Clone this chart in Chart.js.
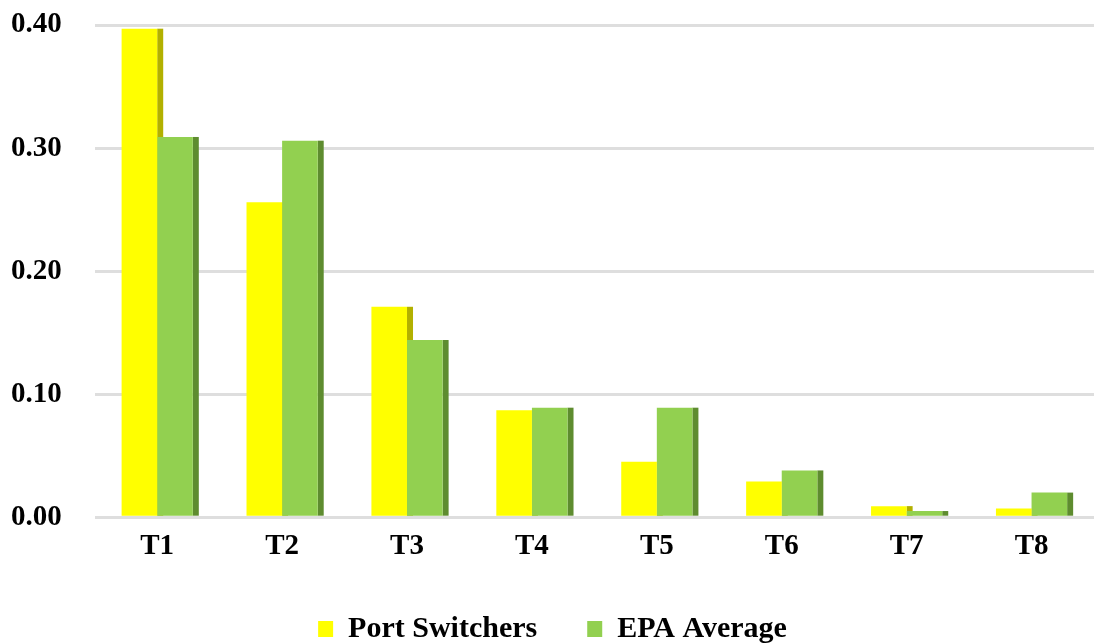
<!DOCTYPE html>
<html lang="en">
<head>
    <meta charset="UTF-8">
    <title>Port Switchers vs EPA Average</title>
    <script src="https://cdn.jsdelivr.net/npm/chart.js"></script>
    <style>
        body { margin: 0; background: #fff; }
    </style>
</head>
<body>
    <canvas id="barChart" width="1095" height="644"></canvas>

    <script>
        const categories = ['T1', 'T2', 'T3', 'T4', 'T5', 'T6', 'T7', 'T8'];
        const portSwitchers = [0.397, 0.256, 0.171, 0.087, 0.045, 0.029, 0.009, 0.007];
        const epaAverage = [0.309, 0.306, 0.144, 0.089, 0.089, 0.038, 0.005, 0.020];
        const yTicks = [0, 0.1, 0.2, 0.3, 0.4];

        // dark strip on the right of each bar (fake 3D side), drawn under the bars
        const sideStrip = {
            id: 'sideStrip',
            beforeDatasetsDraw(chart) {
                const ctx = chart.ctx;
                ctx.save();
                chart.data.datasets.forEach((ds, i) => {
                    ctx.fillStyle = ds.sideColor;
                    chart.getDatasetMeta(i).data.forEach(bar => {
                        const p = bar.getProps(['x', 'y', 'base', 'width'], true);
                        ctx.fillRect(p.x + p.width / 2, p.y, 6, p.base - p.y);
                    });
                });
                ctx.restore();
            }
        };

        const serif = "'Liberation Serif', 'Times New Roman', serif";

        new Chart(document.getElementById('barChart').getContext('2d'), {
            type: 'bar',
            data: {
                labels: categories,
                datasets: [{
                    label: 'Port Switchers',
                    data: portSwitchers,
                    backgroundColor: '#FFFF00',
                    sideColor: '#B2B000'
                }, {
                    label: 'EPA Average',
                    data: epaAverage,
                    backgroundColor: '#92D050',
                    sideColor: '#5E8C2F'
                }]
            },
            options: {
                responsive: false,
                animation: false,
                layout: { padding: { left: 11, right: 1, top: 25, bottom: -10 } },
                datasets: {
                    bar: { categoryPercentage: 0.57, barPercentage: 1.0 }
                },
                scales: {
                    x: {
                        grid: { display: false, drawTicks: true, tickLength: 12 },
                        border: { display: false },
                        ticks: {
                            color: '#000',
                            padding: 0,
                            font: { family: serif, size: 29, weight: 'bold' }
                        }
                    },
                    y: {
                        min: 0,
                        max: 0.4,
                        afterBuildTicks: axis => { axis.ticks = yTicks.map(v => ({ value: v })); },
                        grid: { color: '#DEDEDE', lineWidth: 3, tickLength: 33, tickColor: 'rgba(0,0,0,0)' },
                        border: { display: false },
                        ticks: {
                            color: '#000',
                            padding: 0,
                            callback: v => v.toFixed(2),
                            font: { family: serif, size: 29, weight: 'bold' }
                        }
                    }
                },
                plugins: {
                    tooltip: { enabled: false },
                    legend: {
                        position: 'bottom',
                        labels: {
                            color: '#000',
                            boxWidth: 15,
                            boxHeight: 16,
                            padding: 50,
                            sort: (a, b) => a.datasetIndex - b.datasetIndex,
                            font: { family: serif, size: 30, weight: 'bold' }
                        }
                    }
                }
            },
            plugins: [sideStrip]
        });
    </script>
</body>
</html>
